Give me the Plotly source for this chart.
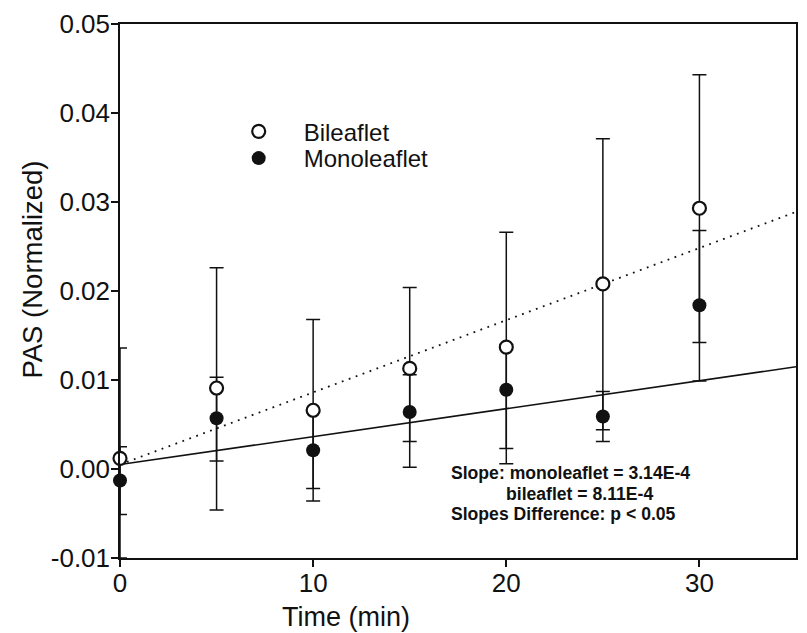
import plotly.graph_objects as go

# Sampling times (min)
time_min = [0, 5, 10, 15, 20, 25, 30]

# Bileaflet valve: mean PAS (normalized) with upper / lower error lengths
bileaflet_mean = [0.0012, 0.0091, 0.0066, 0.0113, 0.0137, 0.0208, 0.0293]
bileaflet_err_plus = [0.0124, 0.0135, 0.0102, 0.0091, 0.0129, 0.0163, 0.0150]
bileaflet_err_minus = [0.0124, 0.0137, 0.0102, 0.0111, 0.0131, 0.0164, 0.0151]

# Monoleaflet valve
monoleaflet_mean = [-0.0013, 0.0057, 0.0021, 0.0064, 0.0089, 0.0059, 0.0184]
monoleaflet_err_plus = [0.0038, 0.0046, 0.0043, 0.0042, 0.0051, 0.0028, 0.0084]
monoleaflet_err_minus = [0.0038, 0.0048, 0.0043, 0.0033, 0.0066, 0.0028, 0.0085]

# Linear fits (shared intercept)
fit_intercept = 0.0005
slope_monoleaflet = 3.14e-4
slope_bileaflet = 8.11e-4

# Axes
x_range = [0, 35]
y_range = [-0.01, 0.05]
x_tick_vals = [0, 10, 20, 30]
x_tick_text = ["0", "10", "20", "30"]
y_tick_vals = [-0.01, 0.0, 0.01, 0.02, 0.03, 0.04, 0.05]
y_tick_text = ["-0.01", "0.00", "0.01", "0.02", "0.03", "0.04", "0.05"]

FONT = "Liberation Sans, Arial, Helvetica, sans-serif"
INK = "#111111"


def floor_clipped(means, minus):
    # keep the lower whisker inside the visible y range
    return [min(m, mu - y_range[0]) for mu, m in zip(means, minus)]


fig = go.Figure()

# regression lines across the full x range
fit_x = list(x_range)
fig.add_trace(go.Scatter(
    x=fit_x, y=[fit_intercept + slope_monoleaflet * t for t in fit_x],
    mode="lines", line=dict(color=INK, width=1.5), showlegend=False,
    hoverinfo="skip"))
fig.add_trace(go.Scatter(
    x=fit_x, y=[fit_intercept + slope_bileaflet * t for t in fit_x],
    mode="lines", line=dict(color=INK, width=1.8, dash="1.8px,5.6px"),
    showlegend=False, hoverinfo="skip"))

# error bars (drawn beneath all markers)
for mean, plus, minus in [
    (monoleaflet_mean, monoleaflet_err_plus, monoleaflet_err_minus),
    (bileaflet_mean, bileaflet_err_plus, bileaflet_err_minus),
]:
    fig.add_trace(go.Scatter(
        x=time_min, y=mean, mode="markers",
        marker=dict(size=12, color="rgba(0,0,0,0)", line=dict(width=0)),
        error_y=dict(type="data", symmetric=False, array=plus,
                     arrayminus=floor_clipped(mean, minus),
                     color=INK, thickness=1.5, width=7),
        cliponaxis=False, showlegend=False, hoverinfo="skip"))

# markers
fig.add_trace(go.Scatter(
    x=time_min, y=monoleaflet_mean, mode="markers", name="Monoleaflet",
    marker=dict(symbol="circle", size=14, color=INK, line=dict(width=0)),
    cliponaxis=False, legend="legend2"))
fig.add_trace(go.Scatter(
    x=time_min, y=bileaflet_mean, mode="markers", name="Bileaflet",
    marker=dict(symbol="circle", size=13, color="white",
                line=dict(width=2.2, color=INK)),
    cliponaxis=False, legend="legend"))

axis_common = dict(
    showline=True, linecolor=INK, linewidth=1.5, mirror=True,
    ticks="outside", ticklen=7, tickwidth=1.5, tickcolor=INK,
    showgrid=False, zeroline=False,
    tickfont=dict(family=FONT, size=26, color=INK),
)

legend_common = dict(
    xref="paper", yref="paper", xanchor="left", yanchor="middle",
    bgcolor="rgba(0,0,0,0)", borderwidth=0, itemwidth=80,
    font=dict(family=FONT, size=24, color=INK),
)

fig.update_layout(
    width=807, height=633,
    margin=dict(l=120, r=9, t=18, b=75),
    paper_bgcolor="white", plot_bgcolor="white",
    font=dict(family=FONT, color=INK),
    xaxis=dict(range=x_range, tickvals=x_tick_vals, ticktext=x_tick_text,
               ticklabelstandoff=-6, **axis_common),
    yaxis=dict(range=y_range, tickvals=y_tick_vals, ticktext=y_tick_text,
               ticklabelstandoff=-4, **axis_common),
    legend=dict(x=0.1386, y=0.7982, **legend_common),
    legend2=dict(x=0.1386, y=0.7481, **legend_common),
    annotations=[
        dict(text="Time (min)", xref="paper", yref="paper", x=0.3348, y=-0.1111,
             xanchor="center", yanchor="middle", showarrow=False,
             font=dict(family=FONT, size=27, color=INK)),
        dict(text="PAS (Normalized)", xref="paper", yref="paper", x=-0.1298,
             y=0.5407, textangle=-90, xanchor="center", yanchor="middle",
             showarrow=False, font=dict(family=FONT, size=27.5, color=INK)),
        dict(text="<b>Slope: monoleaflet = 3.14E-4</b>", xref="paper", yref="paper",
             x=0.4867, y=0.1593, xanchor="left", yanchor="middle", showarrow=False,
             font=dict(family=FONT, size=17.6, color=INK)),
        dict(text="<b>bileaflet = 8.11E-4</b>", xref="paper", yref="paper",
             x=0.5678, y=0.1204, xanchor="left", yanchor="middle", showarrow=False,
             font=dict(family=FONT, size=17.6, color=INK)),
        dict(text="<b>Slopes Difference: p < 0.05</b>", xref="paper", yref="paper",
             x=0.4867, y=0.0815, xanchor="left", yanchor="middle", showarrow=False,
             font=dict(family=FONT, size=17.6, color=INK)),
    ],
)

fig.write_html("out.html")
